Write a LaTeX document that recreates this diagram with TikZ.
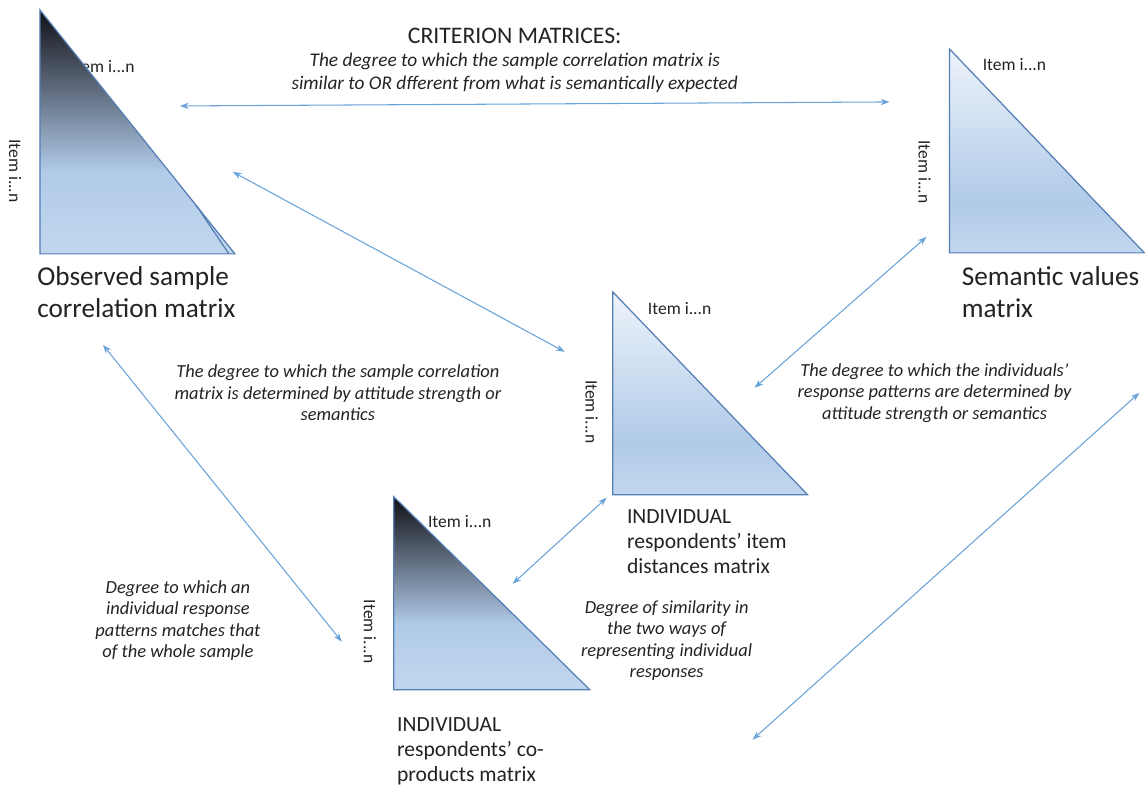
\documentclass[tikz,border=0pt]{standalone}
\usepackage{fontspec}
\setmainfont{Carlito}
\usetikzlibrary{arrows.meta}

\definecolor{triedge}{RGB}{84,126,180}
\definecolor{linkblue}{RGB}{105,163,217}
\definecolor{inkgray}{RGB}{35,35,35}
\definecolor{lowblue}{RGB}{194,215,238}
\definecolor{midblue}{RGB}{176,202,232}
\definecolor{topdark}{RGB}{16,16,22}
\definecolor{toplight}{RGB}{238,244,251}

\pgfdeclareverticalshading{darkfade}{100bp}{color(0bp)=(lowblue); color(25bp)=(lowblue); color(42bp)=(midblue); color(75bp)=(topdark); color(100bp)=(topdark)}
\pgfdeclareverticalshading{lightfade}{100bp}{color(0bp)=(lowblue); color(25bp)=(lowblue); color(38bp)=(midblue); color(75bp)=(toplight); color(100bp)=(toplight)}

\begin{document}
\begin{tikzpicture}
  [x=0.02cm,y=-0.02cm,
   tri/.style={draw=triedge,line width=0.7pt},
   link/.style={draw=linkblue,line width=0.6pt,{Stealth[length=5pt,width=3.6pt]}-{Stealth[length=5pt,width=3.6pt]}},
   itemlbl/.style={font=\fontsize{10}{12}\selectfont,text=inkgray,inner sep=0},
   note/.style={font=\itshape\fontsize{10.5}{12.3}\selectfont,align=center,text=inkgray,inner sep=0},
   caption/.style={font=\fontsize{15.5}{18.7}\selectfont,align=left,text=inkgray,inner sep=0,anchor=north west},
   smallcap/.style={font=\fontsize{12.3}{14}\selectfont,align=left,text=inkgray,inner sep=0,anchor=north west}]

  \fill[white] (0,0) rectangle (1145,785);

  % item labels that sit behind the triangles
  \node[itemlbl] (obsTop) at (103,67) {Item i...n};

  % the four matrices
  \shadedraw[tri,shading=darkfade]  (40,10)   -- (40,254)  -- (235,254) -- cycle;
  \draw[tri] (196,205) -- (229,254);
  \shadedraw[tri,shading=lightfade] (950,49)  -- (950,253) -- (1145,253) -- cycle;
  \shadedraw[tri,shading=lightfade] (613,292) -- (613,495) -- (808,495) -- cycle;
  \shadedraw[tri,shading=darkfade]  (394,497) -- (394,690) -- (590,690) -- cycle;

  \node[itemlbl] (semTop) at (1015,65) {Item i...n};
  \node[itemlbl] (distTop) at (680,309) {Item i...n};
  \node[itemlbl] (coTop) at (460,522) {Item i...n};
  \node[itemlbl,rotate=-90] (obsSide) at (15,171) {Item i...n};
  \node[itemlbl,rotate=-90] (semSide) at (925,172) {Item i...n};
  \node[itemlbl,rotate=-90] (distSide) at (592,412) {Item i...n};
  \node[itemlbl,rotate=-90] (coSide) at (370,632) {Item i...n};

  \node[caption] (obsName) at (37,266) {Observed sample\\correlation matrix};
  \node[caption] (semName) at (962,266) {Semantic values\\matrix};
  \node[smallcap] (distName) at (627,510) {INDIVIDUAL\\respondents’ item\\distances matrix};
  \node[smallcap] (coName) at (397,718) {INDIVIDUAL\\respondents’ co-\\products matrix};

  \node[font=\fontsize{13.5}{15}\selectfont,text=inkgray,inner sep=0] (crit) at (515,36) {CRITERION MATRICES:};
  \node[note,font=\itshape\fontsize{11}{12.8}\selectfont] (critNote) at (515,73) {The degree to which the sample correlation matrix is\\similar to OR dfferent from what is semantically expected};
  \node[note] (sampNote) at (338,393) {The degree to which the sample correlation\\matrix is determined by attitude strength or\\semantics};
  \node[note] (indNote) at (935,393) {The degree to which the individuals’\\response patterns are determined by\\attitude strength or semantics};
  \node[note] (matchNote) at (178,621) {Degree to which an\\individual response\\patterns matches that\\of the whole sample};
  \node[note] (simNote) at (667,641) {Degree of similarity in\\the two ways of\\representing individual\\responses};

  % arrow ends
  \coordinate (obsE) at (180,106);
  \coordinate (semW) at (890,102);
  \coordinate (obsSE) at (233,172);
  \coordinate (distNW) at (565,352);
  \coordinate (semSW) at (927,237);
  \coordinate (distNE) at (755,388);
  \coordinate (obsS) at (103,345);
  \coordinate (coW) at (342,642);
  \coordinate (distSW) at (607,498);
  \coordinate (coNE) at (513,584);
  \coordinate (semS) at (1140,393);
  \coordinate (freeEnd) at (753,740);

  \draw[link] (obsE) -- (semW);
  \draw[link] (obsSE) -- (distNW);
  \draw[link] (semSW) -- (distNE);
  \draw[link] (obsS) -- (coW);
  \draw[link] (distSW) -- (coNE);
  \draw[link] (semS) -- (freeEnd);
\end{tikzpicture}
\end{document}
